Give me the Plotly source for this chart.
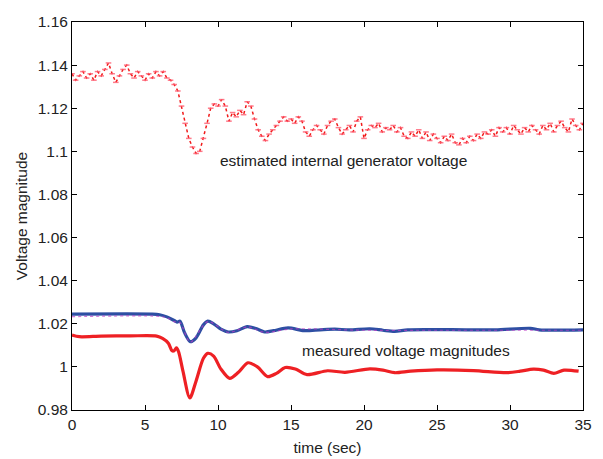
import plotly.graph_objects as go

# Estimated internal generator voltage, sampled every 0.25 s (rows = one second)
est_values = [
    1.136, 1.133, 1.135, 1.137,
    1.134, 1.136, 1.133, 1.137,
    1.135, 1.138, 1.141, 1.136,
    1.132, 1.135, 1.138, 1.140,
    1.136, 1.134, 1.137, 1.135,
    1.133, 1.136, 1.134, 1.137,
    1.135, 1.137, 1.134, 1.133,
    1.131, 1.128, 1.121, 1.113,
    1.106, 1.102, 1.099, 1.100,
    1.106, 1.113, 1.120, 1.122,
    1.121, 1.124, 1.121, 1.114,
    1.118, 1.116, 1.119, 1.117,
    1.123, 1.121, 1.115, 1.110,
    1.107, 1.105, 1.108, 1.110,
    1.112, 1.114, 1.116, 1.114,
    1.115, 1.113, 1.116, 1.114,
    1.109, 1.107, 1.110, 1.112,
    1.110, 1.108, 1.112, 1.114,
    1.115, 1.111, 1.108, 1.110,
    1.112, 1.109, 1.114, 1.116,
    1.106, 1.110, 1.112, 1.111,
    1.113, 1.109, 1.111, 1.110,
    1.112, 1.109, 1.111, 1.107,
    1.106, 1.109, 1.107, 1.110,
    1.106, 1.109, 1.105, 1.108,
    1.106, 1.104, 1.107, 1.105,
    1.108, 1.104, 1.103, 1.106,
    1.104, 1.107, 1.105, 1.108,
    1.106, 1.109, 1.108, 1.110,
    1.107, 1.111, 1.109, 1.111,
    1.108, 1.112, 1.110, 1.108,
    1.111, 1.109, 1.112, 1.110,
    1.108, 1.112, 1.110, 1.113,
    1.109, 1.112, 1.114, 1.111,
    1.109, 1.115, 1.112, 1.110,
    1.113,
]
est_time = [0.25 * i for i in range(len(est_values))]

# Measured voltage magnitude (blue)
blue_time = [0, 5.5, 6.0, 6.5, 7.0, 7.2, 7.4, 7.7, 8.1, 8.5, 9.0, 9.3, 9.7, 10.2, 10.7,
             11.3, 12.0, 12.6, 13.2, 13.8, 14.8, 15.9, 17, 18, 19, 20.4, 21.3, 22.1,
             23, 25, 27, 29, 31.4, 32, 35]
blue_values = [1.0245, 1.0245, 1.0242, 1.0232, 1.0215, 1.0208, 1.0212, 1.0160, 1.0117,
               1.0135, 1.0195, 1.0212, 1.0200, 1.0175, 1.0162, 1.0168, 1.0187, 1.0178,
               1.0162, 1.0168, 1.0181, 1.0168, 1.0172, 1.0175, 1.0172, 1.0177, 1.0170,
               1.0165, 1.0172, 1.0173, 1.0172, 1.0172, 1.0179, 1.0172, 1.0172]

# Measured voltage magnitude (magenta dotted, underneath blue)
mag_time = [0, 5.8, 6.5, 7.0, 7.4, 8.1, 9.3, 10.7, 12, 13.2, 15, 20, 25, 30, 35]
mag_values = [1.0233, 1.0235, 1.0228, 1.0210, 1.0205, 1.0115, 1.0210, 1.0160, 1.0185,
              1.0160, 1.0176, 1.0170, 1.0170, 1.0170, 1.0170]

# Measured voltage magnitude (red)
red_time = [0, 0.5, 2, 4, 5.8, 6.2, 6.6, 6.85, 7.0, 7.15, 7.3, 7.6, 8.07, 8.5, 9.0, 9.3,
            9.7, 10.2, 10.8, 11.4, 12.05, 12.7, 13.4, 14.0, 14.6, 15.3, 16.1, 17.5, 18.7,
            20.4, 21.3, 22.1, 23.2, 25, 27.5, 29.8, 30.7, 31.6, 32.3, 33, 33.7, 34.7]
red_values = [1.0148, 1.0140, 1.0143, 1.0144, 1.0143, 1.0132, 1.0110, 1.0075, 1.0075,
              1.0088, 1.0070, 0.9980, 0.9856, 0.9935, 1.0040, 1.0063, 1.0050, 0.9990,
              0.9947, 0.9975, 1.0019, 1.0000, 0.9955, 0.9970, 0.9997, 0.9990, 0.9964,
              0.9982, 0.9975, 0.9991, 0.9985, 0.9973, 0.9980, 0.9986, 0.9983, 0.9973,
              0.9980, 0.9990, 0.9985, 0.9970, 0.9985, 0.9980]

x_ticks = [0, 5, 10, 15, 20, 25, 30, 35]
y_ticks = [0.98, 1.0, 1.02, 1.04, 1.06, 1.08, 1.1, 1.12, 1.14, 1.16]
y_tick_text = ["0.98", "1", "1.02", "1.04", "1.06", "1.08", "1.1", "1.12", "1.14", "1.16"]

FONT = "Liberation Sans, Arial, sans-serif"
FS = 15.5

fig = go.Figure()
fig.add_trace(go.Scatter(x=est_time, y=est_values, mode="lines",
                         line=dict(color="rgba(240,0,0,0.9)", width=1.5, dash="3px,3px"),
                         showlegend=False))
fig.add_trace(go.Scatter(x=est_time, y=est_values, mode="markers",
                         marker=dict(symbol="line-ew", size=4,
                                     line=dict(color="rgba(255,90,110,0.8)", width=1.5)),
                         showlegend=False))
fig.add_trace(go.Scatter(x=blue_time, y=blue_values, mode="lines",
                         line=dict(color="#2e4fa3", width=3.2, shape="spline", smoothing=0.8),
                         showlegend=False))
fig.add_trace(go.Scatter(x=mag_time, y=mag_values, mode="lines",
                         line=dict(color="rgba(190,60,200,0.7)", width=1.2, dash="dot",
                                   shape="spline", smoothing=0.8),
                         showlegend=False))
fig.add_trace(go.Scatter(x=red_time, y=red_values, mode="lines",
                         line=dict(color="#ee2024", width=3.2, shape="spline", smoothing=0.8),
                         showlegend=False))

fig.add_annotation(x=18.6, y=1.0959, text="estimated internal generator voltage",
                   showarrow=False, font=dict(family=FONT, size=FS, color="#222222"))
fig.add_annotation(x=22.9, y=1.0077, text="measured voltage magnitudes",
                   showarrow=False, font=dict(family=FONT, size=FS, color="#222222"))

axis_common = dict(showline=True, linecolor="black", linewidth=1, mirror="ticks",
                   ticks="inside", ticklen=5, tickcolor="black", showgrid=False,
                   zeroline=False, ticklabeloverflow="allow",
                   tickfont=dict(family=FONT, size=FS, color="#222222"))

# the page body adds an 8px offset; margins compensate so the plot box lands
# at x 72..583, y 13..410 in the 603x459 window
fig.update_layout(
    width=603, height=459,
    margin=dict(l=64, r=28, t=5, b=57),
    paper_bgcolor="white", plot_bgcolor="white",
    xaxis=dict(range=[0, 35], tickvals=x_ticks,
               title=dict(text="time (sec)", standoff=10,
                          font=dict(family=FONT, size=FS, color="#222222")),
               **axis_common),
    yaxis=dict(range=[0.98, 1.16], tickvals=y_ticks, ticktext=y_tick_text,
               title=dict(text="Voltage magnitude", standoff=6,
                          font=dict(family=FONT, size=FS, color="#222222")),
               **axis_common),
)

fig.write_html("out.html")
